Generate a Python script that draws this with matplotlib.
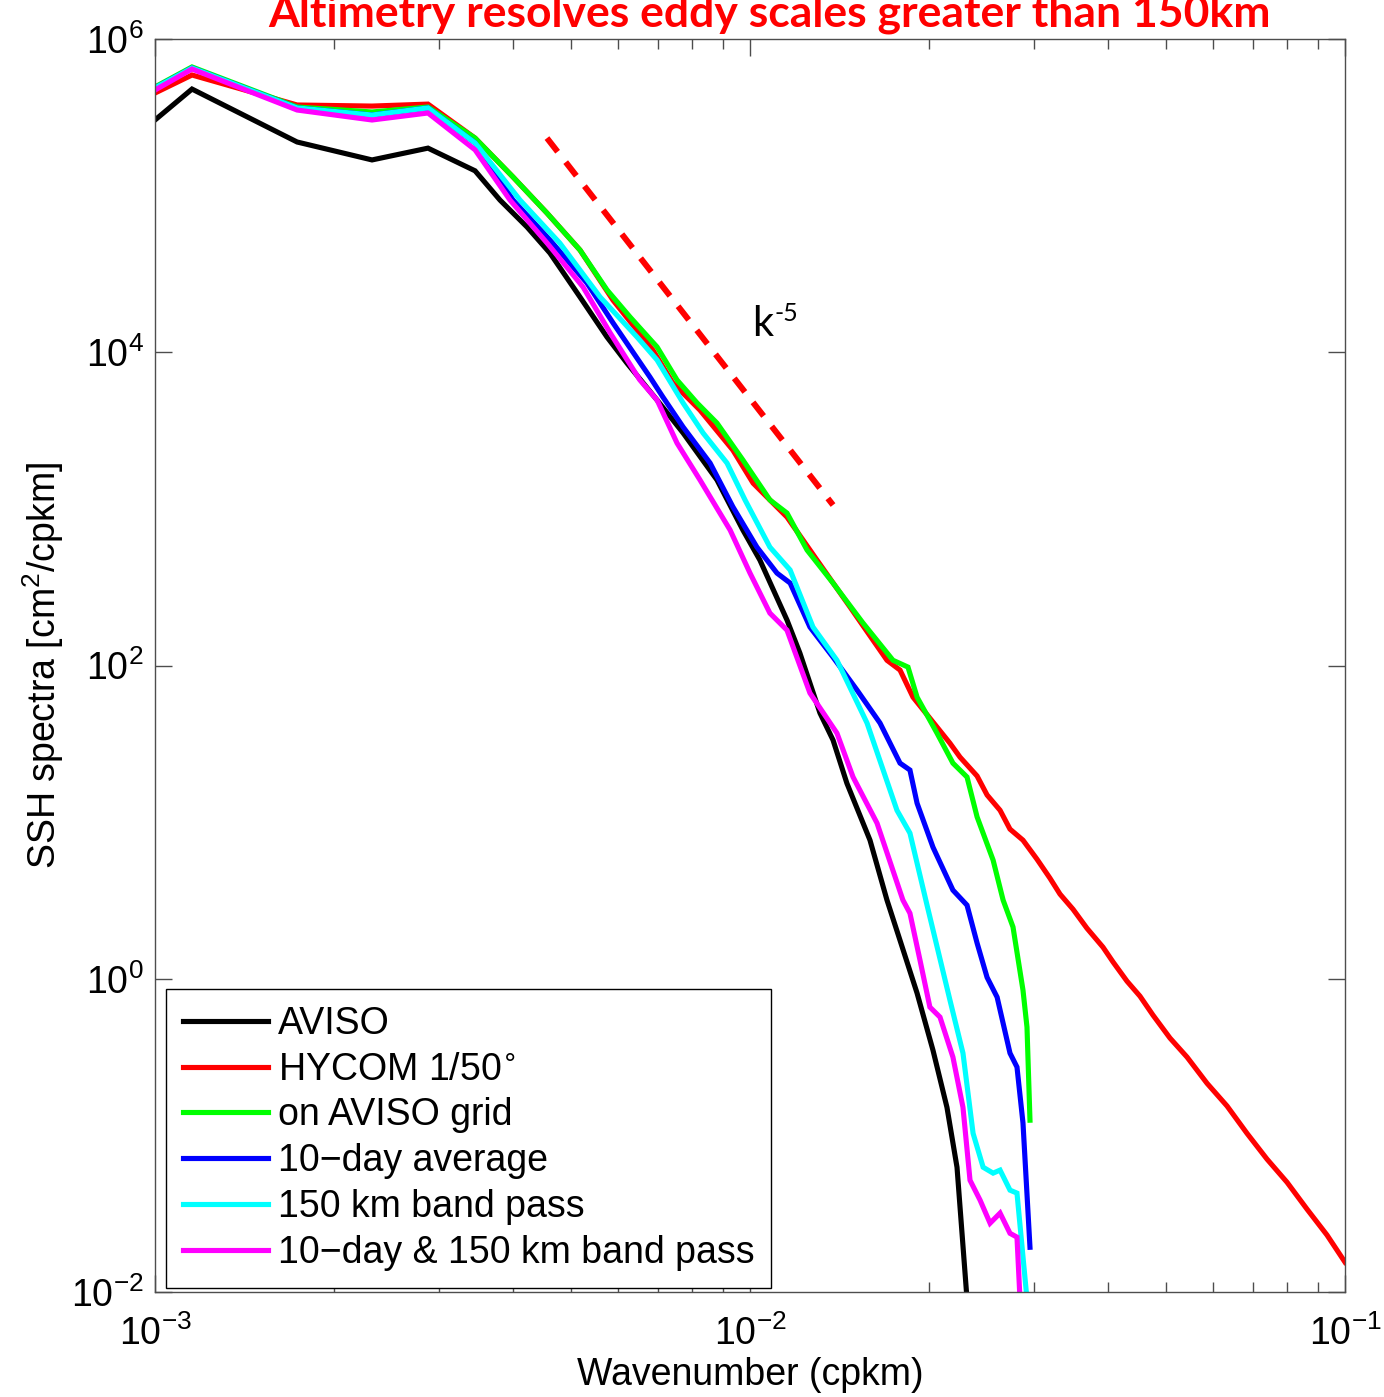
import matplotlib
matplotlib.use("Agg")
import matplotlib.pyplot as plt
from matplotlib.ticker import NullLocator, LogLocator

plt.rcParams['font.family'] = ['Liberation Sans', 'DejaVu Sans']

# wavenumber (cpkm) and SSH spectra (cm^2/cpkm)
aviso_k = [1.00e-3, 1.154e-3, 1.733e-3, 2.316e-3, 2.876e-3, 3.451e-3, 3.80e-3, 4.22e-3, 4.61e-3, 5.18e-3,
           5.75e-3, 6.21e-3, 6.98e-3, 7.72e-3, 8.80e-3, 9.73e-3, 1.039e-2, 1.154e-2, 1.213e-2, 1.311e-2,
           1.379e-2, 1.455e-2, 1.591e-2, 1.699e-2, 1.787e-2, 1.909e-2, 2.030e-2, 2.143e-2, 2.228e-2, 2.316e-2]
aviso_s = [3.04e5, 4.79e5, 2.20e5, 1.69e5, 2.01e5, 1.44e5, 9.37e4, 6.30e4, 4.30e4, 2.25e4,
           1.25e4, 8.53e3, 4.95e3, 3.05e3, 1.53e3, 7.32e2, 4.71e2, 1.95e2, 1.20e2, 4.97e1,
           3.34e1, 1.77e1, 7.67, 3.18, 1.76, 0.809, 0.350, 0.151, 0.0626, 0.009]

hycom_k = [1.00e-3, 1.154e-3, 1.733e-3, 2.316e-3, 2.876e-3, 3.451e-3, 3.997e-3, 4.558e-3, 5.18e-3, 5.885e-3,
           6.871e-3, 7.42e-3, 8.24e-3, 9.36e-3, 1.012e-2, 1.154e-2, 1.296e-2, 1.473e-2, 1.699e-2, 1.787e-2,
           1.879e-2, 2.168e-2, 2.254e-2, 2.408e-2, 2.503e-2, 2.632e-2, 2.735e-2, 2.876e-2, 3.036e-2, 3.192e-2,
           3.319e-2, 3.490e-2, 3.684e-2, 3.920e-2, 4.075e-2, 4.301e-2, 4.523e-2, 4.756e-2, 5.080e-2, 5.427e-2,
           5.863e-2, 6.335e-2, 6.844e-2, 7.395e-2, 7.990e-2, 8.633e-2, 9.327e-2, 1.000e-1]
hycom_s = [4.52e5, 5.89e5, 3.79e5, 3.73e5, 3.84e5, 2.33e5, 1.315e5, 7.74e4, 4.49e4, 2.15e4,
           1.03e4, 6.36e3, 4.27e3, 2.37e3, 1.46e3, 8.86e2, 4.71e2, 2.36e2, 1.08e2, 9.35e1,
           6.28e1, 3.19e1, 2.60e1, 1.97e1, 1.49e1, 1.19e1, 9.02, 7.67, 5.80, 4.39,
           3.47, 2.78, 2.10, 1.59, 1.28, 0.965, 0.774, 0.586, 0.418, 0.316,
           0.215, 0.154, 0.103, 0.0705, 0.0502, 0.0338, 0.0231, 0.0155]

grid_k = [1.00e-3, 1.154e-3, 1.733e-3, 2.316e-3, 2.876e-3, 3.451e-3, 3.997e-3, 4.558e-3, 5.18e-3, 5.75e-3,
          6.285e-3, 6.98e-3, 7.54e-3, 8.15e-3, 8.80e-3, 9.73e-3, 1.080e-2, 1.154e-2, 1.247e-2, 1.379e-2,
          1.548e-2, 1.739e-2, 1.843e-2, 1.909e-2, 2.062e-2, 2.193e-2, 2.316e-2, 2.408e-2, 2.562e-2, 2.663e-2,
          2.767e-2, 2.876e-2, 2.921e-2, 2.955e-2]
grid_s = [4.94e5, 6.63e5, 3.68e5, 3.42e5, 3.68e5, 2.33e5, 1.315e5, 7.74e4, 4.49e4, 2.50e4,
          1.68e4, 1.08e4, 6.65e3, 4.74e3, 3.53e3, 2.05e3, 1.14e3, 9.40e2, 5.46e2, 3.36e2,
          1.87e2, 1.08e2, 9.77e1, 6.28e1, 3.70e1, 2.38e1, 1.94e1, 1.08e1, 5.72, 3.18,
          2.14, 0.846, 0.491, 0.125]

avg_k = [1.00e-3, 1.154e-3, 1.733e-3, 2.316e-3, 2.876e-3, 3.451e-3, 3.997e-3, 4.61e-3, 5.32e-3, 5.885e-3,
         6.79e-3, 7.14e-3, 7.72e-3, 8.57e-3, 9.36e-3, 1.027e-2, 1.110e-2, 1.168e-2, 1.261e-2, 1.379e-2,
         1.513e-2, 1.654e-2, 1.787e-2, 1.857e-2, 1.909e-2, 2.030e-2, 2.193e-2, 2.316e-2, 2.408e-2, 2.503e-2,
         2.602e-2, 2.735e-2, 2.810e-2, 2.876e-2, 2.955e-2]
avg_s = [4.87e5, 6.53e5, 3.63e5, 3.27e5, 3.63e5, 2.17e5, 9.37e4, 5.21e4, 2.77e4, 1.54e4,
         6.94e3, 5.17e3, 3.33e3, 1.96e3, 1.03e3, 5.70e2, 3.89e2, 3.36e2, 1.76e2, 1.13e2,
         6.97e1, 4.29e1, 2.38e1, 2.15e1, 1.32e1, 6.92, 3.68, 2.95, 1.69, 1.02,
         0.763, 0.335, 0.273, 0.120, 0.0193]

band_k = [1.00e-3, 1.154e-3, 1.733e-3, 2.316e-3, 2.876e-3, 3.451e-3, 4.106e-3, 4.79e-3, 5.60e-3, 6.46e-3,
          6.98e-3, 7.72e-3, 8.34e-3, 9.15e-3, 9.81e-3, 1.080e-2, 1.168e-2, 1.276e-2, 1.400e-2, 1.573e-2,
          1.766e-2, 1.857e-2, 1.984e-2, 2.168e-2, 2.280e-2, 2.371e-2, 2.465e-2, 2.562e-2, 2.632e-2, 2.735e-2,
          2.810e-2, 2.921e-2]
band_s = [4.87e5, 6.53e5, 3.63e5, 3.27e5, 3.63e5, 2.17e5, 9.37e4, 4.98e4, 2.25e4, 1.25e4,
          8.92e3, 4.74e3, 3.05e3, 1.96e3, 1.14e3, 5.70e2, 4.07e2, 1.76e2, 1.08e2, 4.29e1,
          1.19e1, 8.51, 2.95, 0.730, 0.335, 0.103, 0.0626, 0.0574, 0.0600, 0.0447,
          0.0428, 0.009]

both_k = [1.00e-3, 1.154e-3, 1.733e-3, 2.316e-3, 2.876e-3, 3.451e-3, 3.95e-3, 4.56e-3, 5.24e-3, 5.82e-3,
          6.53e-3, 6.98e-3, 7.54e-3, 8.24e-3, 9.26e-3, 1.00e-2, 1.080e-2, 1.154e-2, 1.261e-2, 1.400e-2,
          1.490e-2, 1.635e-2, 1.807e-2, 1.857e-2, 1.931e-2, 2.006e-2, 2.086e-2, 2.193e-2, 2.280e-2, 2.343e-2,
          2.436e-2, 2.532e-2, 2.632e-2, 2.735e-2, 2.810e-2, 2.843e-2]
both_s = [4.72e5, 6.43e5, 3.52e5, 3.04e5, 3.37e5, 1.96e5, 9.37e4, 4.98e4, 2.61e4, 1.33e4,
          6.65e3, 4.95e3, 2.63e3, 1.53e3, 7.32e2, 3.89e2, 2.16e2, 1.68e2, 6.67e1, 3.70e1,
          1.94e1, 9.85, 3.18, 2.62, 1.31, 0.659, 0.569, 0.316, 0.151, 0.0517,
          0.0386, 0.0275, 0.0319, 0.0237, 0.0224, 0.009]

# k^-5 reference segment
ref_k = [4.558e-3, 1.379e-2]
ref_s = [2.33e5, 1.058e3]

labels = ["AVISO", "HYCOM 1/50$^{\\circ}$", "on AVISO grid", "10\u2212day average",
          "150 km band pass", "10\u2212day & 150 km band pass"]
colors = ["black", "#ff0000", "#00ff00", "#0000ff", "#00ffff", "#ff00ff"]
series = [(aviso_k, aviso_s), (hycom_k, hycom_s), (grid_k, grid_s),
          (avg_k, avg_s), (band_k, band_s), (both_k, both_s)]

fig = plt.figure(figsize=(13.84, 13.97), dpi=100)
ax = fig.add_axes([155 / 1384, 1 - 1292 / 1397, 1190 / 1384, 1253 / 1397])

for (k, s), c, lab in zip(series, colors, labels):
    ax.plot(k, s, color=c, lw=3.7, label=lab, solid_joinstyle='miter')

ax.plot(ref_k, ref_s, color="#ff0000", lw=4.3, dashes=(2.9, 2.2))
# k^-5 label: plain hyphen in the exponent, as in the original
ax.text(1.008e-2, 1.27e4, "k", fontsize=30, family="Lato", ha="left", va="baseline")
ax.annotate("-5", xy=(1.008e-2, 1.27e4), xytext=(16, 11), textcoords="offset points",
            fontsize=18, family="Lato", ha="left", va="baseline")

ax.set_xscale("log")
ax.set_yscale("log")
ax.set_xlim(1e-3, 1e-1)
ax.set_ylim(1e-2, 1e6)
ax.set_yticks([1e-2, 1e0, 1e2, 1e4, 1e6])
ax.yaxis.set_minor_locator(NullLocator())
ax.xaxis.set_minor_locator(LogLocator(base=10, subs=range(2, 10)))

ax.tick_params(which="both", direction="in", top=True, right=True, color="0.3", width=1)
ax.tick_params(which="major", length=12, labelsize=27)
ax.tick_params(which="minor", length=7)
ax.tick_params(axis="x", pad=17)
ax.tick_params(axis="y", pad=8)
for sp in ax.spines.values():
    sp.set_color("0.3")
    sp.set_linewidth(1)

ax.set_xlabel("Wavenumber (cpkm)", fontsize=27)
ax.xaxis.set_label_coords(0.5, -0.052)
ax.xaxis.label.set_va("top")
ax.set_ylabel("SSH spectra [cm$^{\\mathdefault{2}}$/cpkm]", fontsize=27)
ax.yaxis.set_label_coords(-0.075, 0.5)

leg = ax.legend(loc="upper left", bbox_to_anchor=(0.0092, 0.2418), borderaxespad=0,
                fontsize=27, handlelength=2.26, handletextpad=0.27, borderpad=0.45,
                labelspacing=0.26, fancybox=False, framealpha=1)
leg.get_frame().set_edgecolor("black")
leg.get_frame().set_linewidth(1)

fig.text(769 / 1384, 1 - 27 / 1397, "Altimetry resolves eddy scales greater than 150km",
         color="#ff0000", fontweight="bold", family="Lato", fontsize=32,
         ha="center", va="baseline")

fig.savefig("out.png", dpi=100, facecolor="white")
